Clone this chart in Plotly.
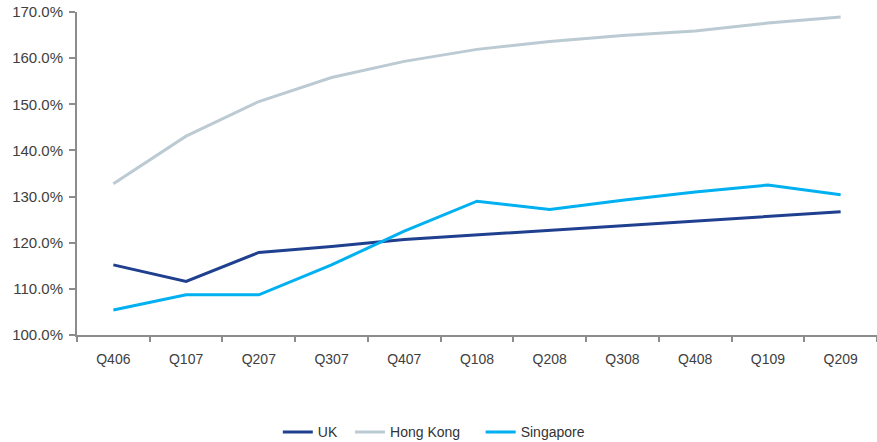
import plotly.graph_objects as go

quarters = ["Q406", "Q107", "Q207", "Q307", "Q407", "Q108", "Q208", "Q308", "Q408", "Q109", "Q209"]
uk = [115.2, 111.6, 117.9, 119.2, 120.7, 121.7, 122.7, 123.7, 124.7, 125.7, 126.7]
hong_kong = [132.8, 143.1, 150.6, 155.8, 159.3, 161.9, 163.6, 164.9, 165.9, 167.6, 168.9]
singapore = [105.4, 108.7, 108.7, 115.2, 122.5, 129.0, 127.2, 129.2, 131.0, 132.5, 130.4]

NB = "\u00a0"
series = [("UK", NB * 2, uk, "#1F3F8F"), ("Hong Kong", NB * 4, hong_kong, "#BCCAD3"),
          ("Singapore", "", singapore, "#00B0F0")]

fig = go.Figure()
for name, pad, vals, col in series:
    fig.add_trace(go.Scatter(x=quarters, y=[v / 100 for v in vals], name=name + pad, mode="lines",
                             line=dict(color=col, width=3)))

fig.update_layout(
    width=877, height=442,
    margin=dict(l=77, r=0, t=12, b=107, autoexpand=False),
    paper_bgcolor="white", plot_bgcolor="white",
    showlegend=True,
    legend=dict(orientation="h", x=0.446, xanchor="center", yref="container", y=0.022, yanchor="middle",
                font=dict(family="Liberation Sans Narrow, Arial Narrow, Liberation Sans, Arial", size=14, color="#333333"),
                tracegroupgap=0),
    font=dict(family="Liberation Sans, Arial", color="#404040"),
)
fig.update_xaxes(type="category", range=[-0.5, len(quarters) - 0.5], showgrid=False, showline=True,
                 linecolor="#8C8C8C", linewidth=2,
                 ticks="outside", tickson="boundaries", ticklen=5, tickcolor="#8C8C8C", tickwidth=2,
                 tickfont=dict(family="Liberation Sans Narrow, Arial Narrow, Liberation Sans, Arial", size=14, color="#404040"),
                 ticklabelstandoff=10)
fig.update_yaxes(range=[1.0, 1.7], dtick=0.1, tickformat=".1%", showgrid=False, zeroline=False,
                 showline=True, linecolor="#8C8C8C", linewidth=2, ticks="outside", ticklen=6,
                 tickcolor="#8C8C8C", tickwidth=2, ticklabelstandoff=3,
                 tickfont=dict(family="Liberation Sans, Arial", size=15, color="#404040"))

fig.write_html("out.html")
